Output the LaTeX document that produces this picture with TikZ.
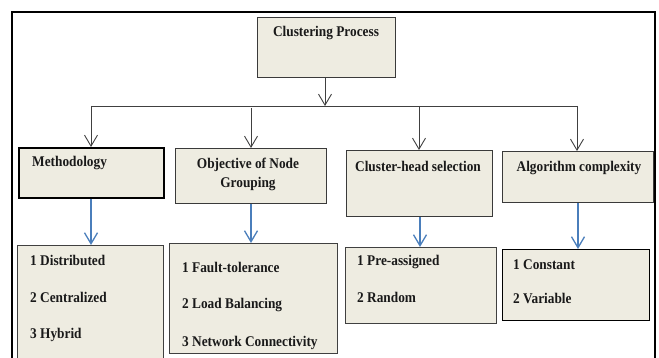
\documentclass[tikz,border=0pt]{standalone}
\usepackage{fontspec}
\setmainfont{Liberation Serif}[FakeStretch=0.9]
\usetikzlibrary{arrows.meta,positioning}
\definecolor{boxfill}{HTML}{EEECE1}
\definecolor{boxline}{HTML}{3A3A3A}
\definecolor{linkgray}{HTML}{404040}
\definecolor{linkblue}{HTML}{4A7EBB}
\tikzset{
  box/.style={draw=boxline, fill=boxfill, line width=1.1pt, inner sep=0pt, anchor=north west},
  heavybox/.style={box, draw=black, line width=1.8pt},
  txt/.style={inner sep=0pt, text=black!90, font=\fontsize{14.8}{17}\selectfont\bfseries},
  itm/.style={txt, anchor=west},
  graylink/.style={draw=linkgray, line width=0.9pt, -{Straight Barb[length=11pt,width=13pt,line width=0.9pt]}},
  bluelink/.style={draw=linkblue, line width=1.4pt, -{Straight Barb[length=11pt,width=13pt,line width=1.3pt]}},
}
\begin{document}
\begin{tikzpicture}[x=1pt,y=-1pt]
\useasboundingbox (0,0) rectangle (659,358);
\clip (0,0) rectangle (659,358);
% outer frame
\draw[line width=2.5pt] (12,12) rectangle (655,380);

% root
\node[box, minimum width=138pt, minimum height=60pt] (root) at (257,17) {};
\node[txt] (roottxt) at (326,33) {Clustering Process};

% branch bar and the columns of the four branches
\coordinate (bus) at (325,106);
\coordinate (busL) at (91,106);
\coordinate (busR) at (577,106);
\coordinate (busB) at (251,108);
\coordinate (busC) at (419,106);
\coordinate (colC) at (420,0);
\coordinate (colD) at (578,0);

% category boxes
\node[heavybox, minimum width=145pt, minimum height=50pt] (meth) at (18,147) {};
\node[box, minimum width=151pt, minimum height=55pt] (obj) at (175,148) {};
\node[box, minimum width=146pt, minimum height=66pt] (chs) at (346,150) {};
\node[box, minimum width=151pt, minimum height=51pt] (alg) at (502,151) {};

\node[txt, anchor=west] (methtxt) at (32,163) {Methodology};
\node[txt, align=center] (objtxt) at (248,174) {Objective of Node\\[2pt]Grouping};
\node[txt] (chstxt) at (418,166) {Cluster-head selection};
\node[txt] (algtxt) at (579,168) {Algorithm complexity};

% list boxes
\node[box, draw=linkgray, line width=1pt, minimum width=146pt, minimum height=130pt] (methl) at (17,245) {};
\node[box, draw=linkgray, line width=1pt, minimum width=168pt, minimum height=110pt] (objl) at (169,243) {};
\node[box, draw=linkgray, line width=1pt, minimum width=151pt, minimum height=76pt] (chsl) at (345,247) {};
\node[box, draw=black, line width=1.4pt, minimum width=147pt, minimum height=71pt] (algl) at (502,249) {};

\node[itm] (m1) at (30,260) {1 Distributed};
\node[itm] (m2) at (30,297) {2 Centralized};
\node[itm] (m3) at (30,335) {3 Hybrid};

\node[itm] (o1) at (182,267) {1 Fault-tolerance};
\node[itm] (o2) at (182,305) {2 Load Balancing};
\node[itm] (o3) at (182,343) {3 Network Connectivity};

\node[itm] (c1) at (357,262) {1 Pre-assigned};
\node[itm] (c2) at (357,297) {2 Random};

\node[itm] (a1) at (513,265) {1 Constant};
\node[itm] (a2) at (513,298) {2 Variable};

% gray connectors from the root
\draw[graylink] (root.south -| bus) -- (bus);
\draw[draw=linkgray, line width=0.9pt] (busL) -- (busR);
\draw[graylink] (busL) -- (busL |- meth.north);
\draw[graylink] (busB) -- (busB |- obj.north);
\draw[graylink] (busC) -- (busC |- chs.north);
\draw[graylink] (busR) -- (busR |- alg.north);

% blue connectors to the lists
\draw[bluelink] (meth.south -| busL) -- (busL |- methl.north);
\draw[bluelink] (obj.south -| busB) -- (busB |- objl.north);
\draw[bluelink] (chs.south -| colC) -- (colC |- chsl.north);
\draw[bluelink] (alg.south -| colD) -- (colD |- algl.north);
\end{tikzpicture}
\end{document}
